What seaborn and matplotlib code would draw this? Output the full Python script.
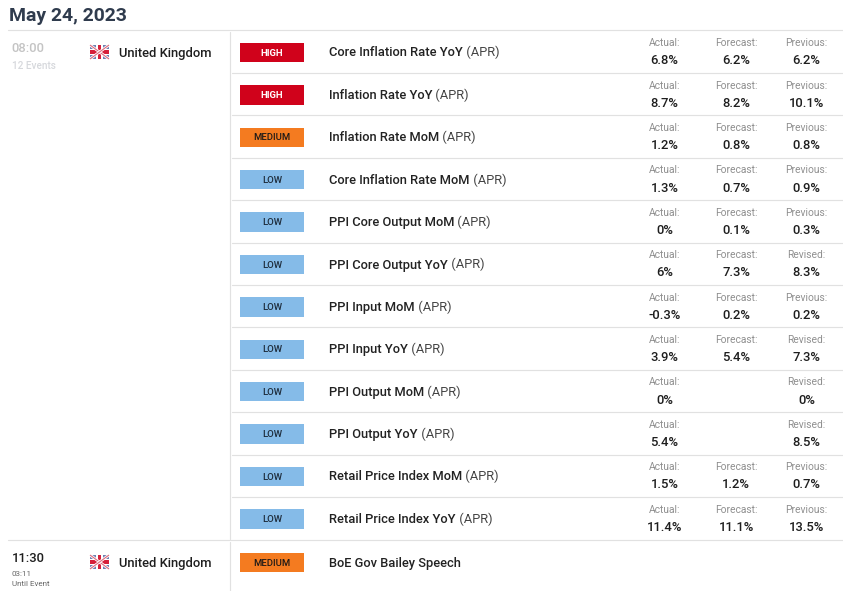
import numpy as np
import pandas as pd
import matplotlib
matplotlib.use('Agg')
import matplotlib.pyplot as plt
from matplotlib.patches import Rectangle
import seaborn as sns

# table content
events = ['Core Inflation Rate YoY', 'Inflation Rate YoY', 'Inflation Rate MoM', 'Core Inflation Rate MoM',
          'PPI Core Output MoM', 'PPI Core Output YoY', 'PPI Input MoM', 'PPI Input YoY',
          'PPI Output MoM', 'PPI Output YoY', 'Retail Price Index MoM', 'Retail Price Index YoY',
          'BoE Gov Bailey Speech']
impact = ['HIGH', 'HIGH', 'MEDIUM', 'LOW', 'LOW', 'LOW', 'LOW', 'LOW', 'LOW', 'LOW', 'LOW', 'LOW', 'MEDIUM']
actual = ['6.8%', '8.7%', '1.2%', '1.3%', '0%', '6%', '-0.3%', '3.9%', '0%', '5.4%', '1.5%', '11.4%']
forecast = ['6.2%', '8.2%', '0.8%', '0.7%', '0.1%', '7.3%', '0.2%', '5.4%', '', '', '1.2%', '11.1%']
previous = ['6.2%', '10.1%', '0.8%', '0.9%', '0.3%', '8.3%', '0.2%', '7.3%', '0%', '8.5%', '0.7%', '13.5%']
prev_label = ['Previous:', 'Previous:', 'Previous:', 'Previous:', 'Previous:', 'Revised:', 'Previous:', 'Revised:',
              'Revised:', 'Revised:', 'Previous:', 'Previous:']

W, H = 843, 591
PT = 0.72  # px to pt at dpi 100
colors = {'HIGH': '#d0021b', 'MEDIUM': '#f47b20', 'LOW': '#85bbe8'}
text_cols = {'HIGH': 'white', 'MEDIUM': '#1f1a17', 'LOW': '#1d2b3a'}
LINE = '#e1e1e1'
DARK = '#1e1e1e'
GREY = '#8f8f8f'

sns.set_theme(style='white')
plt.rcParams['font.family'] = ['Roboto', 'DejaVu Sans']

fig = plt.figure(figsize=(W / 100, H / 100), dpi=100)
ax = fig.add_axes([0, 0, 1, 1])
ax.set_xlim(0, W)
ax.set_ylim(H, 0)
ax.axis('off')

row_y = [52.5 + 42.4 * i for i in range(12)] + [562.5]

# impact badges
df = pd.DataFrame({'y': row_y, 'width': 1, 'impact': impact})
bx = fig.add_axes([240 / W, 0, 64 / W, 1])
sns.barplot(data=df, x='width', y='y', hue='impact', palette=colors, orient='y', native_scale=True,
            dodge=False, saturation=1, width=19.5 / 42.4, legend=False, linewidth=0, ax=bx)
bx.set_xlim(0, 1)
bx.set_ylim(H, 0)
bx.axis('off')
for y, imp in zip(row_y, impact):
    bx.text(0.5, y + 0.5, imp, ha='center', va='center', fontsize=9.5 * PT,
            fontweight='bold' if imp == 'HIGH' else 'medium', color=text_cols[imp])

# grid lines
ax.plot([8, W], [30.2, 30.2], color=LINE, lw=0.85)
ax.plot([8, W], [540.2, 540.2], color=LINE, lw=0.85)
ax.plot([230.2, 230.2], [32, 539], color=LINE, lw=0.85)
ax.plot([230.2, 230.2], [542, H], color=LINE, lw=0.85)
for i in range(1, 12):
    y = 30.5 + 42.4 * i
    ax.plot([232, W], [y, y], color=LINE, lw=0.85)


def draw_flag(x, y, w=19, h=14):
    clip = Rectangle((x, y), w, h, transform=ax.transData)
    ax.add_patch(Rectangle((x, y), w, h, fc='#6f80b2', ec='none'))
    for xs, ys in [((x, x + w), (y, y + h)), ((x, x + w), (y + h, y))]:
        ax.plot(xs, ys, color='white', lw=2.0, clip_path=clip, solid_capstyle='butt')
        ax.plot(xs, ys, color='#dc6a7c', lw=0.8, clip_path=clip, solid_capstyle='butt')
    ax.add_patch(Rectangle((x + w / 2 - 3.2, y), 6.4, h, fc='white', ec='none'))
    ax.add_patch(Rectangle((x, y + h / 2 - 3), w, 6, fc='white', ec='none'))
    ax.add_patch(Rectangle((x + w / 2 - 1.8, y), 3.6, h, fc='#d6203a', ec='none'))
    ax.add_patch(Rectangle((x, y + h / 2 - 1.7), w, 3.4, fc='#d6203a', ec='none'))


# left column
ax.text(9, 16, 'May 24, 2023', fontsize=19.4 * PT, fontweight='bold', color='#2f3b4d', va='center')
ax.text(11.5, 49, '08:00', fontsize=13 * PT, fontweight='medium', color='#c4c4c4', va='center')
ax.text(11.5, 66, '12 Events', fontsize=10 * PT, fontweight='medium', color='#d6d8dc', va='center')
ax.text(11.5, 558, '11:30', fontsize=13 * PT, fontweight='medium', color=DARK, va='center')
ax.text(11.5, 573.5, '03:11', fontsize=8 * PT, color='#666666', va='center')
ax.text(11.5, 584.5, 'Until Event', fontsize=8 * PT, color='#666666', va='center')
for y in [52.5, 562.5]:
    draw_flag(90, y - 7.5)
    ax.text(119, y + 0.5, 'United Kingdom', fontsize=13 * PT, fontweight='medium', color=DARK, va='center')

# events and values
for i, (name, y) in enumerate(zip(events, row_y)):
    t = ax.text(329, y + 0.5, name, fontsize=12.9 * PT, fontweight='medium', color='#222222', va='center')
    if i < 12:
        ax.annotate(' (APR)', xy=(1, 0), xycoords=t, va='bottom', fontsize=12.9 * PT, color='#444444')
        ax.text(664.5, y - 9.3, 'Actual:', ha='center', va='center', fontsize=10.3 * PT, color=GREY)
        ax.text(664.5, y + 8.5, actual[i], ha='center', va='center', fontsize=13 * PT, fontweight='medium', color=DARK)
        if forecast[i]:
            ax.text(736, y - 9.3, 'Forecast:', ha='center', va='center', fontsize=10.3 * PT, color=GREY)
            ax.text(736, y + 8.5, forecast[i], ha='center', va='center', fontsize=13 * PT, fontweight='medium', color=DARK)
        ax.text(806.5, y - 9.3, prev_label[i], ha='center', va='center', fontsize=10.3 * PT, color=GREY)
        ax.text(806.5, y + 8.5, previous[i], ha='center', va='center', fontsize=13 * PT, fontweight='medium', color=DARK)

fig.savefig('out.png', dpi=100)
